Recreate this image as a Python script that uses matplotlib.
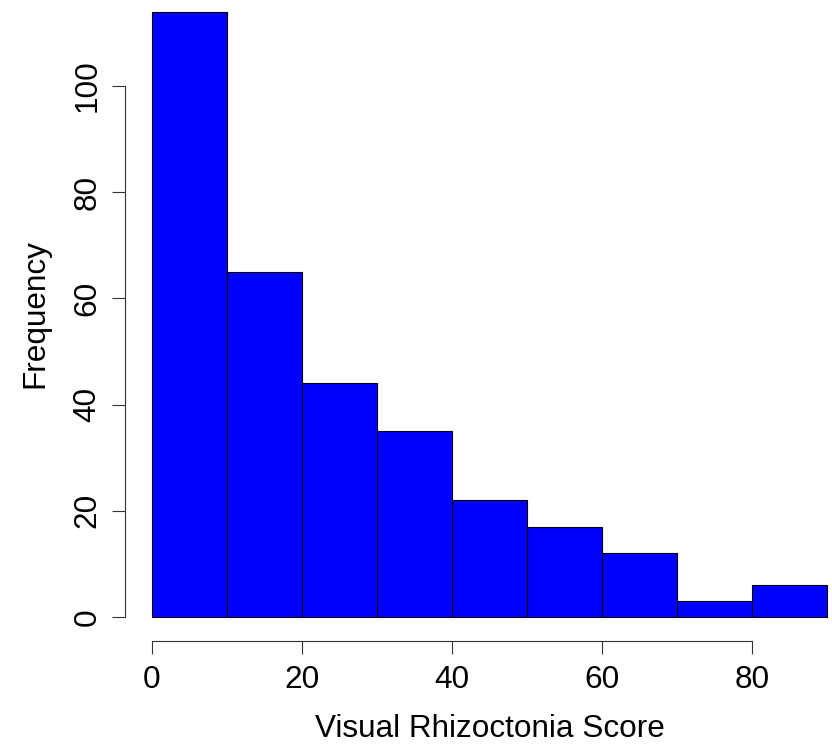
import numpy as np
import matplotlib
matplotlib.use("Agg")
import matplotlib.pyplot as plt

# Data
bin_edges = [0, 10, 20, 30, 40, 50, 60, 70, 80, 90]
counts = [114, 65, 44, 35, 22, 17, 12, 3, 6]
x_ticks = [0, 20, 40, 60, 80]
y_ticks = [0, 20, 40, 60, 80, 100]
x_label = "Visual Rhizoctonia Score"
y_label = "Frequency"

plt.rcParams['font.family'] = ['Liberation Sans', 'DejaVu Sans']

W, H = 832, 746
fig = plt.figure(figsize=(W / 100, H / 100), dpi=100)

# plot region in pixels (R-style 4% expansion)
left_px, right_px = 125.0, 854.0
top_px, bottom_px = -12.6, 641.2
ax = fig.add_axes([left_px / W, (H - bottom_px) / H,
                   (right_px - left_px) / W, (bottom_px - top_px) / H])

xmin, xmax = bin_edges[0], bin_edges[-1]
xr = xmax - xmin
ymax = max(counts)
ax.set_xlim(xmin - 0.04 * xr, xmax + 0.04 * xr)
ax.set_ylim(-0.04 * ymax, ymax * 1.04)

lefts = np.array(bin_edges[:-1])
widths = np.diff(bin_edges)
ax.bar(lefts, counts, width=widths, align='edge', color='#0000FF',
       edgecolor='black', linewidth=0.8)

for s in ['top', 'right']:
    ax.spines[s].set_visible(False)
ax.spines['bottom'].set_bounds(x_ticks[0], x_ticks[-1])
ax.spines['left'].set_bounds(y_ticks[0], y_ticks[-1])
for s in ['bottom', 'left']:
    ax.spines[s].set_linewidth(0.8)
    ax.spines[s].set_color('#333333')

fs = 22.7
ax.set_xticks(x_ticks)
ax.set_xticklabels([str(v) for v in x_ticks], fontsize=fs)
ax.set_yticks(y_ticks)
ax.set_yticklabels([str(v) for v in y_ticks], fontsize=fs, rotation=90,
                   va='center')
ax.tick_params(axis='x', length=9.1, width=0.8, color='#333333', pad=8.1)
ax.tick_params(axis='y', length=9.1, width=0.8, color='#333333', pad=7.2)

fig.text((left_px + right_px) / 2 / W, (H - 736.7) / H, x_label,
         ha='center', va='baseline', fontsize=fs)
fig.text(35.5 / W, (H - 313.5) / H, y_label, rotation=90,
         ha='center', va='center', fontsize=fs)

fig.savefig("out.png", dpi=100)
